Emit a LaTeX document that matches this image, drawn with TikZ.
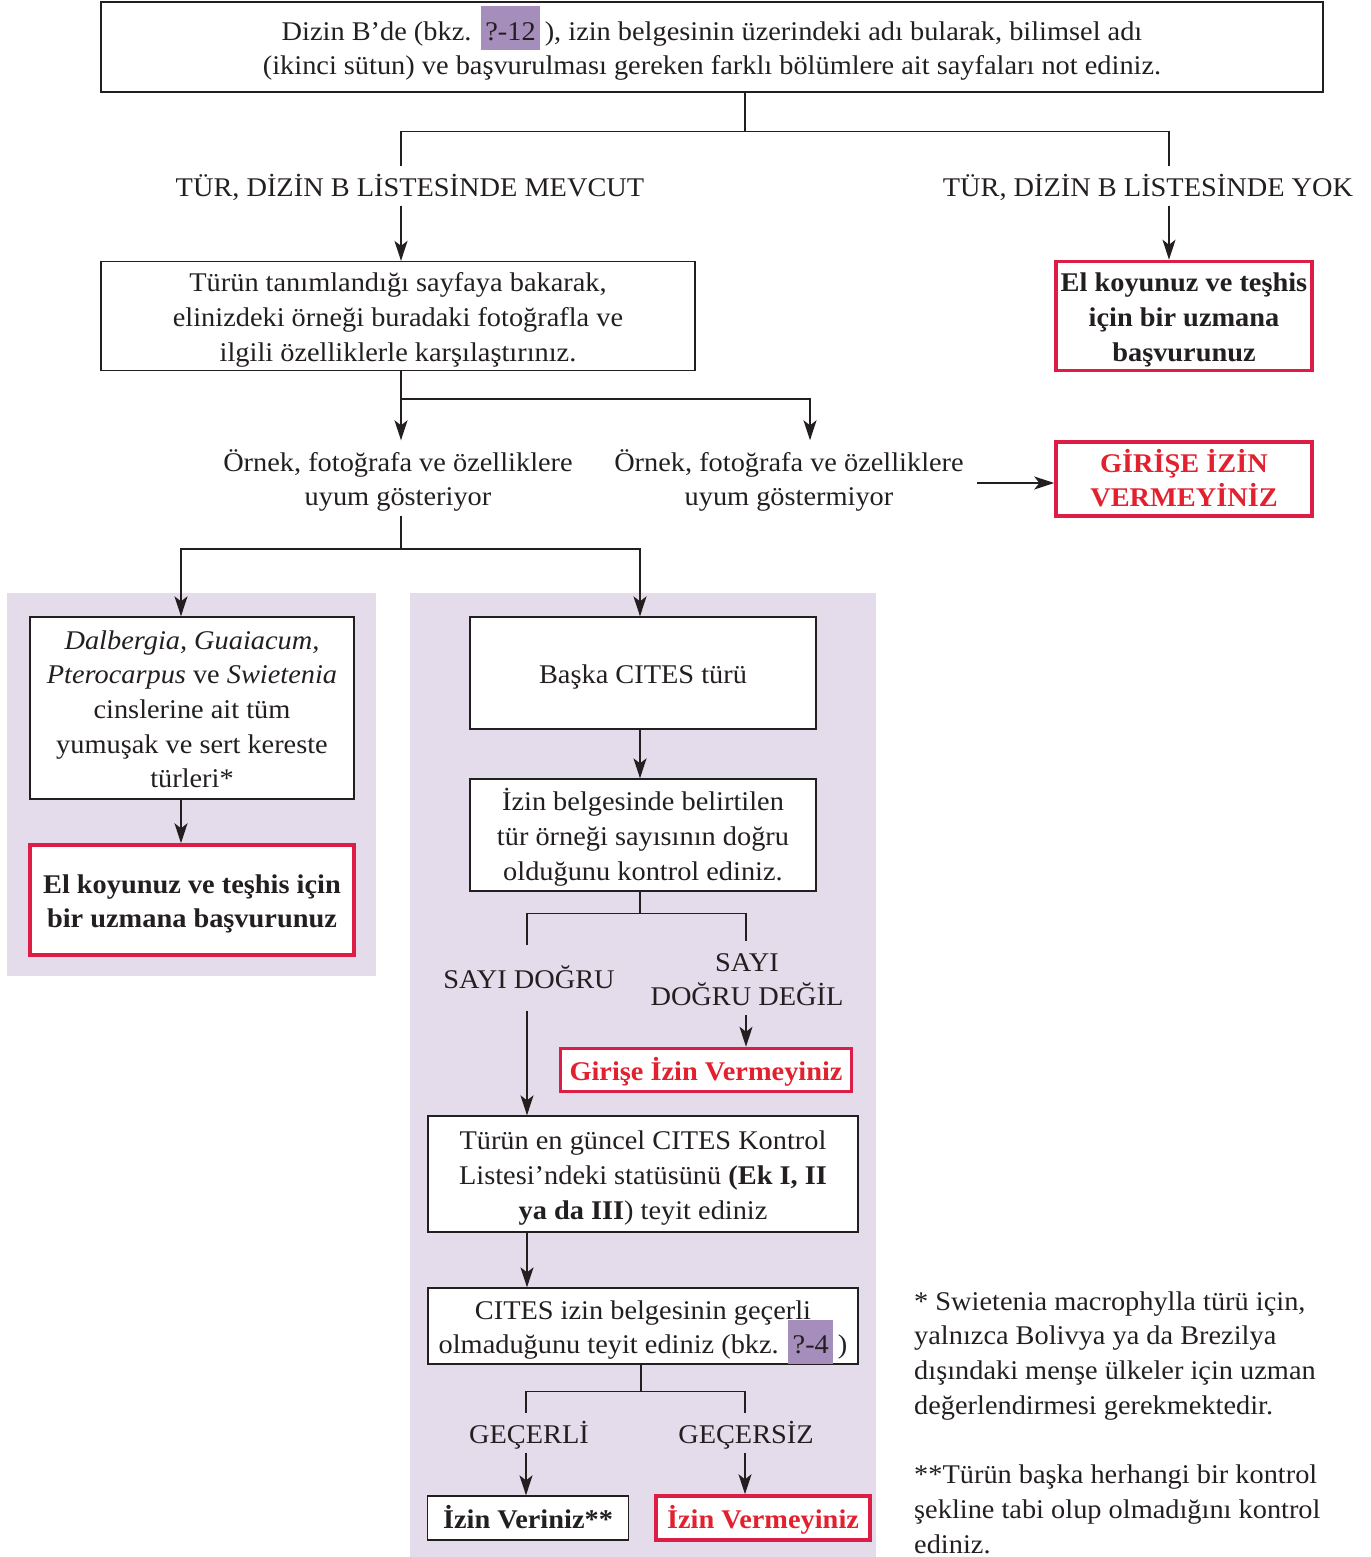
\documentclass[tikz,border=0pt]{standalone}
\usepackage{fontspec}
\setmainfont[FakeStretch=1.05]{Liberation Serif}
\usetikzlibrary{arrows.meta}
\definecolor{lila}{HTML}{E4DCEA}
\definecolor{vurgu}{HTML}{A58EBB}
\definecolor{kirmizi}{HTML}{DC1E46}
\definecolor{kirmiziyazi}{HTML}{E3202E}
\definecolor{cizgi}{HTML}{231F20}
\newcommand{\bkzkutu}[1]{\smash{\setlength{\fboxsep}{0pt}\colorbox{vurgu}{\rule[-10pt]{0pt}{44pt}\,#1\,}}\,}
\begin{document}
\begin{tikzpicture}[x=1pt,y=-1pt,
    every node/.style={font=\fontsize{27}{34.7}\selectfont, text=cizgi,
        execute at begin node={\rule{0pt}{30pt}}, execute at end node={\rule[-9pt]{0pt}{0pt}}},
    kutu/.style={draw=cizgi, line width=1.3pt, fill=white, align=flush center, inner sep=0pt},
    uyari/.style={kutu, draw=kirmizi, line width=3.5pt, font=\fontsize{27}{34.7}\selectfont\bfseries},
    etiket/.style={align=flush center, inner sep=0pt, text width=480pt},
    hat/.style={draw=cizgi, line width=1.6pt},
    ok/.style={hat, -{Stealth[length=20pt,width=13pt,inset=5pt]}}]
    \useasboundingbox (0,0) rectangle (1370,1557);
    % lila zeminler
    \fill[lila] (7,593) rectangle (376,976);
    \fill[lila] (410,593) rectangle (876,1557);

    \node[kutu, text width=1222pt, minimum height=90pt] (ust) at (712,47)
        {Dizin B'de (bkz. \bkzkutu{?-12}), izin belgesinin üzerindeki adı bularak, bilimsel adı\\
         (ikinci sütun) ve başvurulması gereken farklı bölümlere ait sayfaları not ediniz.};
    \node[etiket, minimum height=38pt] (mevcut) at (410,186) {TÜR, DİZİN B LİSTESİNDE MEVCUT};
    \node[etiket, minimum height=38pt] (yok) at (1148,186) {TÜR, DİZİN B LİSTESİNDE YOK};

    \node[kutu, text width=594pt, minimum height=109pt] (karsilastir) at (398,316)
        {Türün tanımlandığı sayfaya bakarak,\\ elinizdeki örneği buradaki fotoğrafla ve\\ ilgili özelliklerle karşılaştırınız.};
    \node[uyari, text width=256pt, minimum height=109pt] (uzman1) at (1184,316)
        {El koyunuz ve teşhis\\ için bir uzmana\\ başvurunuz};

    \node[etiket, minimum height=75pt] (uyum) at (398,478)
        {Örnek, fotoğrafa ve özelliklere\\ uyum gösteriyor};
    \node[etiket, text width=360pt, minimum height=75pt] (uyumyok) at (789,478)
        {Örnek, fotoğrafa ve özelliklere\\ uyum göstermiyor};
    \node[uyari, text=kirmiziyazi, text width=256pt, minimum height=74pt] (girise) at (1184,479)
        {GİRİŞE İZİN\\ VERMEYİNİZ};

    % sol sutun
    \node[kutu, text width=324pt, minimum height=182pt] (cins) at (192,708)
        {\textit{Dalbergia, Guaiacum,}\\ \textit{Pterocarpus} ve \textit{Swietenia}\\ cinslerine ait tüm\\ yumuşak ve sert kereste\\ türleri*};
    \node[uyari, text width=324pt, minimum height=110pt] (uzman2) at (192,900)
        {El koyunuz ve teşhis için\\ bir uzmana başvurunuz};

    % sag sutun
    \node[kutu, text width=346pt, minimum height=112pt] (baska) at (643,673) {Başka CITES türü};
    \node[kutu, text width=346pt, minimum height=112pt] (sayi) at (643,835)
        {İzin belgesinde belirtilen\\ tür örneği sayısının doğru\\ olduğunu kontrol ediniz.};
    \node[etiket, text width=200pt, minimum height=65pt] (dogru) at (529,978) {SAYI DOĞRU};
    \node[etiket, text width=220pt, minimum height=65pt] (degil) at (747,978) {SAYI\\ DOĞRU DEĞİL};
    \node[uyari, text=kirmiziyazi, text width=291pt, minimum height=43pt] (girise2) at (706,1070)
        {Girişe İzin Vermeyiniz};
    \node[kutu, text width=430pt, minimum height=116pt] (statu) at (643,1174)
        {Türün en güncel CITES Kontrol\\ Listesi'ndeki statüsünü \textbf{(Ek I, II}\\ \textbf{ya da III}) teyit ediniz};
    \node[kutu, text width=430pt, minimum height=76pt] (belge) at (643,1326)
        {CITES izin belgesinin geçerli\\ olmaduğunu teyit ediniz (bkz. \bkzkutu{?-4})};
    \node[etiket, text width=200pt, minimum height=37pt] (gec) at (529,1433) {GEÇERLİ};
    \node[etiket, text width=200pt, minimum height=37pt] (gecsiz) at (746,1433) {GEÇERSİZ};
    \node[kutu, text width=201pt, minimum height=44pt, font=\fontsize{27}{34.7}\selectfont\bfseries] (izinver) at (528,1518)
        {İzin Veriniz**};
    \node[uyari, text=kirmiziyazi, text width=214pt, minimum height=44pt] (izinverme) at (763,1518)
        {İzin Vermeyiniz};

    % dipnotlar
    \node[anchor=north west, align=flush left, text width=440pt, inner sep=0pt,
          execute at end node={}] (dipnot) at (914,1280)
        {* Swietenia macrophylla türü için,\\ yalnızca Bolivya ya da Brezilya\\ dışındaki menşe ülkeler için uzman\\ değerlendirmesi gerekmektedir.\\[34.7pt]
         **Türün başka herhangi bir kontrol\\ şekline tabi olup olmadığını kontrol\\ ediniz.};

    % baglantilar
    \draw[hat] ([xshift=33pt]ust.south) -- ++(0,39) -| ([xshift=-9pt]mevcut.north);
    \draw[hat] ([xshift=33pt]ust.south) -- ++(0,39) -| ([xshift=21pt]yok.north);
    \draw[ok] ([xshift=-9pt]mevcut.south) -- ([xshift=3pt]karsilastir.north);
    \draw[ok] ([xshift=21pt]yok.south) -- ([xshift=-15pt]uzman1.north);
    \draw[ok] ([xshift=3pt]karsilastir.south) -- ([xshift=3pt]uyum.north);
    \draw[ok] ([xshift=3pt]karsilastir.south) -- ++(0,28) -| ([xshift=21pt]uyumyok.north);
    \draw[ok] ([xshift=8pt,yshift=-5pt]uyumyok.east) -- ([yshift=-4pt]girise.west);
    \draw[ok] ([xshift=3pt]uyum.south) -- ++(0,33) -| ([xshift=-11pt]cins.north);
    \draw[ok] ([xshift=3pt]uyum.south) -- ++(0,33) -| ([xshift=-3pt]baska.north);
    \draw[ok] ([xshift=-11pt]cins.south) -- ([xshift=-11pt]uzman2.north);
    \draw[ok] ([xshift=-3pt]baska.south) -- ([xshift=-3pt]sayi.north);
    \draw[hat] ([xshift=-3pt]sayi.south) -- ++(0,22) -| ([xshift=-2pt]dogru.north);
    \draw[hat] ([xshift=-3pt]sayi.south) -- ++(0,22) -| ([xshift=-1pt]degil.north);
    \draw[ok] ([xshift=-1pt]degil.south) -- ([xshift=40pt]girise2.north);
    \draw[ok] ([xshift=-2pt]dogru.south) -- ([xshift=-116pt]statu.north);
    \draw[ok] ([xshift=-116pt]statu.south) -- ([xshift=-116pt]belge.north);
    \draw[hat] ([xshift=-2pt]belge.south) -- ++(0,27) -| ([xshift=-3pt]gec.north);
    \draw[hat] ([xshift=-2pt]belge.south) -- ++(0,27) -| ([xshift=-1pt]gecsiz.north);
    \draw[ok] ([xshift=-3pt]gec.south) -- ([xshift=-2pt]izinver.north);
    \draw[ok] ([xshift=-1pt]gecsiz.south) -- ([xshift=-18pt]izinverme.north);
\end{tikzpicture}
\end{document}
